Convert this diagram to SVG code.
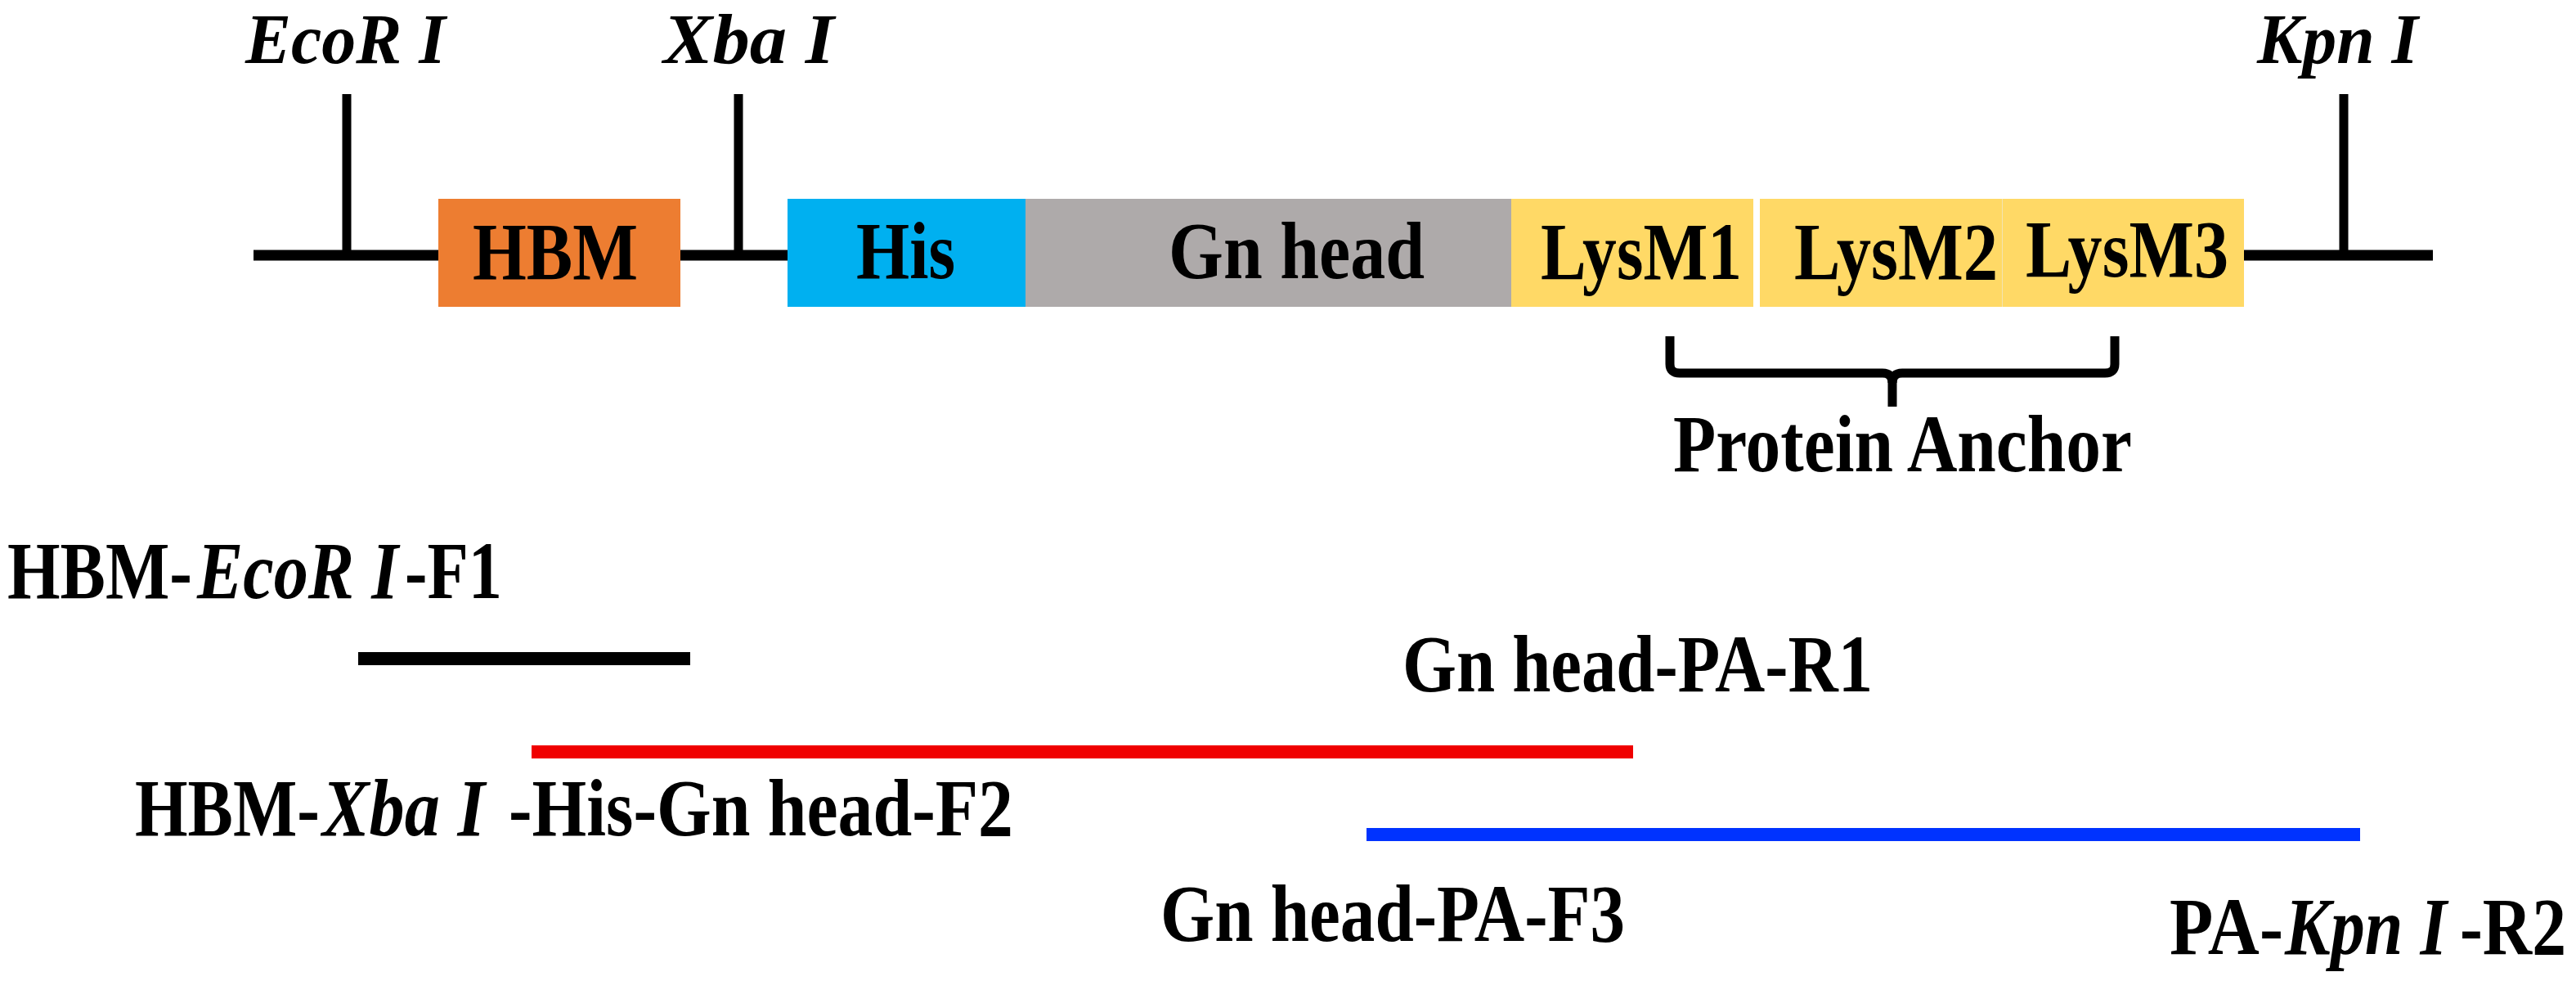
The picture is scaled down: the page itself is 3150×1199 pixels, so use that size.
<svg xmlns="http://www.w3.org/2000/svg" width="3150" height="1199" viewBox="0 0 3150 1199">
<style>
text{font-family:"Liberation Serif","Times New Roman",serif;font-weight:bold;font-size:100px;fill:#000}
.it{font-style:italic}
.site{font-size:86px}
.ln{stroke:#000;stroke-width:13;fill:none}
.tick{stroke:#000;stroke-width:11;fill:none}
.lys{fill:#FFD966}
</style>
<rect width="3150" height="1199" fill="#fff"/>
<g id="connectors">
<line class="ln" x1="310" y1="312" x2="537" y2="312"/>
<line class="ln" x1="832" y1="312" x2="964" y2="312"/>
<line class="ln" x1="2744" y1="312" x2="2975" y2="312"/>
<line class="tick" x1="424" y1="115" x2="424" y2="312"/>
<line class="tick" x1="903" y1="115" x2="903" y2="312"/>
<line class="tick" x1="2866" y1="115" x2="2866" y2="312"/>
</g>
<g id="site-ecori"><text class="it site" x="300" y="77" textLength="245" lengthAdjust="spacingAndGlyphs">EcoR I</text></g>
<g id="site-xbai"><text class="it site" x="811" y="77" textLength="209" lengthAdjust="spacingAndGlyphs">Xba I</text></g>
<g id="site-kpni"><text class="it site" x="2760" y="77" textLength="197" lengthAdjust="spacingAndGlyphs">Kpn I</text></g>
<g id="hbm"><rect x="536" y="243" width="296" height="132" fill="#ED7D31"/><text x="578" y="341" textLength="202" lengthAdjust="spacingAndGlyphs">HBM</text></g>
<g id="his"><rect x="963" y="243" width="291" height="132" fill="#00B0F0"/><text x="1047" y="340" textLength="121" lengthAdjust="spacingAndGlyphs">His</text></g>
<g id="gnhead"><rect x="1254" y="243" width="594" height="132" fill="#AEAAAA"/><text x="1429" y="340" textLength="313" lengthAdjust="spacingAndGlyphs">Gn head</text></g>
<g id="lysm1"><rect class="lys" x="1848" y="243" width="296" height="132"/><text x="1884" y="341" textLength="246" lengthAdjust="spacingAndGlyphs">LysM1</text></g>
<g id="lysm2"><rect class="lys" x="2152" y="243" width="296" height="132"/><text x="2194" y="341" textLength="249" lengthAdjust="spacingAndGlyphs">LysM2</text></g>
<g id="lysm3"><rect class="lys" x="2449" y="243" width="295" height="132"/><line x1="2448.5" y1="243" x2="2448.5" y2="375" stroke="#F3E3B0" stroke-width="1"/><text x="2477" y="338" textLength="248" lengthAdjust="spacingAndGlyphs">LysM3</text></g>
<g id="protein-anchor">
<path class="tick" d="M2042 411 V445 Q2042 456 2054 456 H2302 Q2314 456 2314 468 Q2314 456 2326 456 H2574 Q2586 456 2586 445 V411"/>
<line class="tick" x1="2314" y1="456" x2="2314" y2="497"/>
<text x="2046" y="576" textLength="561" lengthAdjust="spacingAndGlyphs">Protein Anchor</text>
</g>
<g id="primer-f1">
<text x="9" y="731" textLength="226" lengthAdjust="spacingAndGlyphs">HBM-</text>
<text class="it" x="241" y="731" textLength="246" lengthAdjust="spacingAndGlyphs">EcoR I</text>
<text x="495" y="731" textLength="119" lengthAdjust="spacingAndGlyphs">-F1</text>
<rect x="438" y="797" width="406" height="16" fill="#000"/>
</g>
<g id="primer-r1"><text x="1715" y="845" textLength="575" lengthAdjust="spacingAndGlyphs">Gn head-PA-R1</text></g>
<g id="primer-f2">
<rect x="650" y="911" width="1347" height="16" fill="#F00000"/>
<text x="165" y="1021" textLength="226" lengthAdjust="spacingAndGlyphs">HBM-</text>
<text class="it" x="394" y="1021" textLength="199" lengthAdjust="spacingAndGlyphs">Xba I</text>
<text x="622" y="1021" textLength="617" lengthAdjust="spacingAndGlyphs">-His-Gn head-F2</text>
</g>
<g id="primer-f3"><rect x="1671" y="1012" width="1215" height="16" fill="#0033FF"/><text x="1419" y="1150" textLength="568" lengthAdjust="spacingAndGlyphs">Gn head-PA-F3</text></g>
<g id="primer-r2">
<text x="2653" y="1166" textLength="139" lengthAdjust="spacingAndGlyphs">PA-</text>
<text class="it" x="2794" y="1166" textLength="198" lengthAdjust="spacingAndGlyphs">Kpn I</text>
<text x="3008" y="1166" textLength="130" lengthAdjust="spacingAndGlyphs">-R2</text>
</g>
</svg>
